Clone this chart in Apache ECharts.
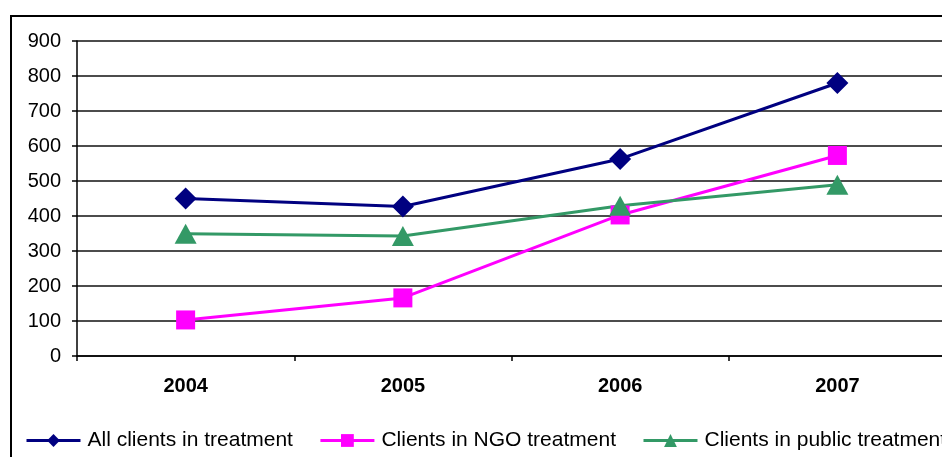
<!DOCTYPE html>
<html>
<head>
<meta charset="utf-8">
<script src="https://cdn.jsdelivr.net/npm/echarts@6/dist/echarts.min.js"></script>
<style>
  html, body { margin: 0; padding: 0; background: #fff; }
  #chart { width: 942px; height: 457px; }
</style>
</head>
<body>
<div id="chart"></div>
<script>
var years = ['2004', '2005', '2006', '2007']
var allClients = [450, 427, 563, 780]
var ngoClients = [103, 166, 403, 573]
var publicClients = [349, 343, 429, 489]
var seriesNames = ['All clients in treatment', 'Clients in NGO treatment', 'Clients in public treatment']
var yTicks = { min: 0, max: 900, interval: 100 }

var font = 'Liberation Sans, Arial, sans-serif'

var chart = echarts.init(document.getElementById('chart'))

function lineSeries(name, data, color, symbol, size) {
  return {
    name: name,
    type: 'line',
    data: data,
    symbol: symbol,
    symbolSize: size,
    lineStyle: { color: color, width: 3 },
    itemStyle: { color: color },
    animation: false
  }
}

chart.setOption({
  animation: false,
  graphic: [{
    type: 'rect',
    shape: { x: 11, y: 16, width: 1000, height: 500 },
    style: { fill: 'none', stroke: '#000', lineWidth: 2 },
    z: 100
  }],
  grid: { left: 77, top: 41, width: 869, height: 315, outerBoundsMode: 'none', containLabel: false },
  legend: {
    left: 25,
    top: 430,
    width: 1200,
    padding: 0,
    itemWidth: 54,
    itemHeight: 16,
    itemGap: 26,
    lineStyle: { width: 3 },
    textStyle: { fontFamily: font, fontSize: 21, color: '#000', padding: [0, 0, 0, 2] },
    data: seriesNames
  },
  xAxis: {
    type: 'category',
    data: years,
    boundaryGap: true,
    axisLine: { lineStyle: { color: '#000', width: 1.5 } },
    axisTick: { show: true, length: 5, lineStyle: { color: '#000', width: 1.5 } },
    axisLabel: { fontFamily: font, fontSize: 20, fontWeight: 'bold', color: '#000', margin: 20 }
  },
  yAxis: {
    type: 'value',
    min: yTicks.min,
    max: yTicks.max,
    interval: yTicks.interval,
    axisLine: { show: true, lineStyle: { color: '#000', width: 1.5 } },
    axisTick: { show: true, length: 5, lineStyle: { color: '#000', width: 1.5 } },
    axisLabel: { fontFamily: font, fontSize: 20, color: '#000', margin: 16 },
    splitLine: { lineStyle: { color: '#111', width: 1.5 } }
  },
  series: [
    lineSeries(seriesNames[0], allClients, '#000080', 'diamond', [22, 22]),
    lineSeries(seriesNames[1], ngoClients, '#ff00ff', 'rect', [19, 19]),
    lineSeries(seriesNames[2], publicClients, '#339966', 'triangle', [22, 20])
  ]
})
</script>
</body>
</html>
